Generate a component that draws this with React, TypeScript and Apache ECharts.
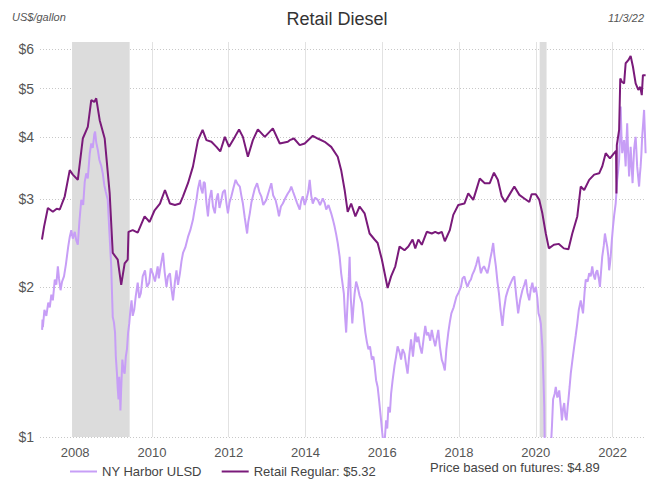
import React, { useEffect, useRef } from "react";
import * as echarts from "echarts";

const FONT = "'Liberation Sans', Arial, Helvetica, sans-serif";
const LIGHT = "#c79ef6";
const DARK = "#7a1a7a";

const yearTicks = [2008, 2010, 2012, 2014, 2016, 2018, 2020, 2022];
const priceTicks = [1, 2, 3, 4, 5, 6];

const recessions = [
  [2007.92, 2009.42],
  [2020.1, 2020.28],
];

const legendNames = ["NY Harbor ULSD", "Retail Regular: $5.32"];
const futuresNote = "Price based on futures: $4.89";
const titleText = "Retail Diesel";
const unitText = "US$/gallon";
const dateText = "11/3/22";

// [decimal year, US$/gallon]
const retailSeries: [number, number][] = [
  [2007.136, 2.49], [2007.19, 2.64], [2007.29, 2.88], [2007.42, 2.83], [2007.52, 2.87],
  [2007.6, 2.86], [2007.73, 3.04], [2007.86, 3.43], [2007.94, 3.36],
  [2008.07, 3.28], [2008.2, 3.97], [2008.33, 4.19], [2008.42, 4.74], [2008.5, 4.7],
  [2008.55, 4.78], [2008.64, 4.32], [2008.77, 3.97], [2008.9, 3.08], [2008.98, 2.34],
  [2009.11, 2.27], [2009.2, 2.02], [2009.29, 2.23], [2009.37, 2.27], [2009.39, 2.58],
  [2009.5, 2.6], [2009.63, 2.57], [2009.81, 2.77], [2009.94, 2.7],
  [2010.07, 2.85], [2010.21, 2.94], [2010.34, 3.13], [2010.47, 2.94], [2010.6, 2.92],
  [2010.73, 2.94], [2010.81, 3.04], [2010.94, 3.23],
  [2011.07, 3.49], [2011.2, 3.94], [2011.32, 4.13], [2011.42, 3.94], [2011.55, 3.91],
  [2011.68, 3.82], [2011.78, 3.74], [2011.9, 4.0],
  [2012.01, 3.82], [2012.16, 4.0], [2012.27, 4.14], [2012.37, 4.0], [2012.5, 3.65],
  [2012.63, 3.94], [2012.76, 4.14], [2012.94, 4.0],
  [2013.15, 4.16], [2013.33, 3.88], [2013.54, 3.91], [2013.59, 3.94], [2013.7, 3.97],
  [2013.85, 3.85], [2013.98, 3.88],
  [2014.19, 4.02], [2014.32, 3.97], [2014.5, 3.91], [2014.67, 3.82], [2014.84, 3.65],
  [2014.93, 3.43],
  [2015.02, 3.13], [2015.1, 2.83], [2015.19, 2.94], [2015.3, 2.77], [2015.41, 2.9],
  [2015.54, 2.81], [2015.67, 2.56], [2015.8, 2.49], [2015.88, 2.45], [2015.99, 2.27],
  [2016.14, 1.99], [2016.23, 2.1], [2016.34, 2.2], [2016.45, 2.41], [2016.58, 2.37],
  [2016.68, 2.41], [2016.79, 2.49], [2016.86, 2.39], [2016.94, 2.49],
  [2017.03, 2.43], [2017.16, 2.58], [2017.29, 2.56], [2017.38, 2.58], [2017.46, 2.56],
  [2017.55, 2.58], [2017.63, 2.47], [2017.76, 2.6], [2017.85, 2.79], [2017.98, 2.92],
  [2018.14, 2.94], [2018.24, 3.08], [2018.37, 2.99], [2018.46, 3.15], [2018.54, 3.3],
  [2018.67, 3.23], [2018.8, 3.23], [2018.91, 3.39],
  [2019.01, 3.28], [2019.11, 3.04], [2019.2, 2.96], [2019.31, 3.06], [2019.44, 3.18],
  [2019.57, 3.06], [2019.7, 3.01], [2019.83, 2.96], [2019.89, 3.07],
  [2020.0, 3.07], [2020.09, 2.99], [2020.17, 2.81], [2020.26, 2.56], [2020.34, 2.39],
  [2020.47, 2.43], [2020.6, 2.44], [2020.73, 2.39], [2020.85, 2.38], [2020.95, 2.56],
  [2021.08, 2.77], [2021.17, 3.18], [2021.26, 3.13], [2021.39, 3.28], [2021.52, 3.36],
  [2021.65, 3.38], [2021.73, 3.49], [2021.82, 3.71], [2021.93, 3.62],
  [2022.04, 3.71], [2022.09, 3.75], [2022.1, 3.08], [2022.11, 3.85], [2022.13, 3.94],
  [2022.17, 4.13], [2022.2, 5.24], [2022.24, 5.16], [2022.3, 5.12], [2022.34, 5.62],
  [2022.41, 5.7], [2022.47, 5.81], [2022.53, 5.53], [2022.6, 5.12], [2022.67, 4.97],
  [2022.72, 5.04], [2022.76, 4.85], [2022.79, 5.32], [2022.86, 5.32],
];

const ulsdSeries: [number, number][] = [
  [2007.14, 1.64], [2007.15, 1.72], [2007.16, 1.66], [2007.2, 1.8], [2007.25, 1.75],
  [2007.3, 1.86], [2007.34, 1.82], [2007.38, 1.93], [2007.42, 1.88], [2007.47, 2.07],
  [2007.51, 2.02], [2007.55, 2.2], [2007.58, 2.08], [2007.62, 1.97], [2007.66, 2.05],
  [2007.71, 2.1], [2007.76, 2.22], [2007.82, 2.41], [2007.86, 2.52], [2007.9, 2.6],
  [2007.94, 2.5], [2007.99, 2.58], [2008.03, 2.48], [2008.07, 2.43], [2008.11, 2.7],
  [2008.16, 2.99], [2008.21, 2.92], [2008.25, 3.25], [2008.29, 3.38], [2008.33, 3.3],
  [2008.38, 3.7], [2008.42, 3.88], [2008.46, 3.8], [2008.5, 4.05], [2008.52, 4.1],
  [2008.55, 3.9], [2008.59, 3.77], [2008.63, 3.6], [2008.68, 3.5], [2008.72, 3.38],
  [2008.76, 3.2], [2008.8, 3.1], [2008.85, 2.99], [2008.89, 2.6], [2008.94, 2.2],
  [2008.96, 1.95], [2008.98, 1.74], [2009.01, 1.7], [2009.04, 1.62], [2009.06, 1.45],
  [2009.09, 1.34], [2009.11, 1.25], [2009.13, 1.19], [2009.15, 1.32], [2009.17, 1.2],
  [2009.18, 1.13], [2009.2, 1.25], [2009.23, 1.43], [2009.26, 1.36], [2009.29, 1.34],
  [2009.32, 1.45], [2009.35, 1.5], [2009.38, 1.62], [2009.41, 1.69], [2009.44, 1.8],
  [2009.47, 1.88], [2009.5, 1.75], [2009.54, 1.8], [2009.58, 1.92], [2009.63, 2.04],
  [2009.67, 1.9], [2009.71, 1.94], [2009.76, 2.1], [2009.82, 2.16], [2009.87, 2.0],
  [2009.93, 2.04], [2009.97, 2.18], [2010.02, 2.13], [2010.08, 2.05], [2010.15, 2.2],
  [2010.18, 2.08], [2010.21, 2.16], [2010.25, 2.25], [2010.29, 2.34], [2010.33, 2.15],
  [2010.38, 2.0], [2010.42, 2.1], [2010.47, 2.13], [2010.51, 1.98], [2010.55, 1.88],
  [2010.6, 2.05], [2010.64, 2.16], [2010.68, 2.02], [2010.73, 2.13], [2010.77, 2.25],
  [2010.81, 2.34], [2010.87, 2.4], [2010.94, 2.52], [2011.0, 2.6], [2011.07, 2.73],
  [2011.11, 2.85], [2011.16, 2.99], [2011.2, 3.15], [2011.25, 3.28], [2011.28, 3.15],
  [2011.32, 3.08], [2011.35, 3.25], [2011.38, 3.23], [2011.42, 2.95], [2011.46, 2.77],
  [2011.5, 3.0], [2011.55, 3.13], [2011.59, 2.9], [2011.64, 2.81], [2011.68, 3.0],
  [2011.72, 3.08], [2011.76, 2.88], [2011.81, 2.99], [2011.85, 3.1], [2011.9, 3.13],
  [2011.94, 2.95], [2011.98, 2.81], [2012.02, 2.95], [2012.07, 3.04], [2012.12, 3.15],
  [2012.18, 3.28], [2012.23, 3.22], [2012.29, 3.18], [2012.33, 3.05], [2012.37, 2.94],
  [2012.42, 2.75], [2012.48, 2.56], [2012.51, 2.7], [2012.55, 2.81], [2012.59, 2.95],
  [2012.63, 3.04], [2012.68, 3.15], [2012.74, 3.23], [2012.8, 3.1], [2012.85, 3.04],
  [2012.9, 2.92], [2012.98, 2.99], [2013.04, 3.1], [2013.11, 3.23], [2013.16, 3.05],
  [2013.22, 2.99], [2013.27, 2.88], [2013.31, 2.77], [2013.36, 2.9], [2013.41, 2.94],
  [2013.48, 3.02], [2013.54, 3.08], [2013.59, 3.12], [2013.63, 3.18], [2013.68, 3.1],
  [2013.72, 3.04], [2013.78, 2.95], [2013.85, 2.86], [2013.89, 2.98], [2013.93, 3.04],
  [2013.98, 2.92], [2014.02, 2.99], [2014.07, 3.1], [2014.11, 3.28], [2014.15, 3.05],
  [2014.19, 2.94], [2014.25, 3.02], [2014.32, 2.99], [2014.38, 2.92], [2014.45, 3.01],
  [2014.5, 2.95], [2014.54, 2.86], [2014.6, 2.92], [2014.67, 2.81], [2014.72, 2.72],
  [2014.76, 2.64], [2014.8, 2.55], [2014.84, 2.45], [2014.89, 2.3], [2014.93, 2.13],
  [2014.97, 2.02], [2015.0, 1.94], [2015.03, 1.75], [2015.06, 1.62], [2015.08, 1.75],
  [2015.1, 1.88], [2015.13, 2.1], [2015.15, 2.3], [2015.18, 1.9], [2015.22, 1.69],
  [2015.25, 1.82], [2015.28, 1.94], [2015.32, 2.05], [2015.36, 2.0], [2015.41, 1.92],
  [2015.47, 1.86], [2015.51, 1.75], [2015.56, 1.62], [2015.6, 1.55], [2015.64, 1.5],
  [2015.68, 1.52], [2015.73, 1.43], [2015.77, 1.45], [2015.8, 1.39], [2015.84, 1.3],
  [2015.88, 1.26], [2015.92, 1.18], [2015.97, 1.08], [2016.0, 1.02], [2016.04, 0.95],
  [2016.07, 1.0], [2016.1, 1.08], [2016.13, 1.04], [2016.16, 1.15], [2016.2, 1.12],
  [2016.23, 1.22], [2016.27, 1.3], [2016.32, 1.39], [2016.36, 1.45], [2016.4, 1.52],
  [2016.45, 1.48], [2016.49, 1.43], [2016.53, 1.5], [2016.58, 1.47], [2016.62, 1.4],
  [2016.66, 1.34], [2016.7, 1.45], [2016.75, 1.57], [2016.8, 1.45], [2016.86, 1.62],
  [2016.9, 1.55], [2016.94, 1.59], [2016.98, 1.52], [2017.03, 1.47], [2017.08, 1.58],
  [2017.12, 1.67], [2017.16, 1.6], [2017.2, 1.62], [2017.25, 1.56], [2017.29, 1.64],
  [2017.33, 1.58], [2017.38, 1.52], [2017.42, 1.58], [2017.46, 1.64], [2017.5, 1.52],
  [2017.55, 1.43], [2017.59, 1.4], [2017.63, 1.36], [2017.67, 1.5], [2017.72, 1.62],
  [2017.76, 1.7], [2017.8, 1.77], [2017.86, 1.82], [2017.93, 1.91], [2017.99, 1.95],
  [2018.05, 2.0], [2018.09, 2.08], [2018.14, 2.1], [2018.18, 2.04], [2018.22, 2.0],
  [2018.27, 2.05], [2018.31, 2.07], [2018.35, 2.12], [2018.4, 2.16], [2018.45, 2.22],
  [2018.5, 2.3], [2018.54, 2.2], [2018.57, 2.13], [2018.61, 2.18], [2018.65, 2.2],
  [2018.7, 2.16], [2018.74, 2.13], [2018.78, 2.2], [2018.81, 2.27], [2018.85, 2.35],
  [2018.89, 2.45], [2018.92, 2.32], [2018.96, 2.2], [2019.0, 2.05], [2019.04, 1.94],
  [2019.08, 1.8], [2019.13, 1.67], [2019.17, 1.8], [2019.22, 1.91], [2019.28, 1.98],
  [2019.35, 2.04], [2019.4, 2.08], [2019.44, 2.1], [2019.49, 1.92], [2019.54, 1.77],
  [2019.59, 1.88], [2019.65, 1.97], [2019.7, 2.02], [2019.74, 2.07], [2019.78, 1.95],
  [2019.83, 1.88], [2019.87, 1.98], [2019.91, 2.04], [2019.95, 1.95], [2020.0, 2.0],
  [2020.04, 1.9], [2020.07, 1.77], [2020.1, 1.74], [2020.13, 1.69], [2020.17, 1.52],
  [2020.2, 1.3], [2020.22, 1.15], [2020.25, 0.75], [2020.3, 0.7], [2020.36, 0.85],
  [2020.4, 0.98], [2020.42, 1.05], [2020.45, 1.19], [2020.49, 1.22], [2020.52, 1.26],
  [2020.56, 1.2], [2020.61, 1.24], [2020.65, 1.15], [2020.68, 1.08], [2020.71, 1.14],
  [2020.74, 1.17], [2020.77, 1.1], [2020.8, 1.08], [2020.83, 1.15], [2020.85, 1.19],
  [2020.88, 1.26], [2020.91, 1.34], [2020.95, 1.42], [2021.0, 1.52], [2021.04, 1.6],
  [2021.08, 1.69], [2021.12, 1.8], [2021.17, 1.88], [2021.2, 1.82], [2021.23, 1.77],
  [2021.27, 1.95], [2021.3, 2.07], [2021.35, 2.05], [2021.39, 2.13], [2021.43, 2.1],
  [2021.47, 2.2], [2021.5, 2.12], [2021.54, 2.07], [2021.57, 2.14], [2021.6, 2.16],
  [2021.64, 2.08], [2021.67, 2.0], [2021.7, 2.15], [2021.73, 2.3], [2021.77, 2.42],
  [2021.8, 2.56], [2021.83, 2.48], [2021.86, 2.41], [2021.89, 2.3], [2021.91, 2.16],
  [2021.93, 2.22], [2021.95, 2.3], [2021.98, 2.48], [2022.01, 2.64], [2022.04, 2.78],
  [2022.08, 2.94], [2022.1, 3.1], [2022.12, 3.28], [2022.15, 3.45], [2022.17, 3.6],
  [2022.19, 4.0], [2022.21, 4.6], [2022.23, 4.05], [2022.25, 3.71], [2022.28, 3.85],
  [2022.3, 3.94], [2022.32, 3.7], [2022.34, 3.49], [2022.36, 3.9], [2022.38, 4.26],
  [2022.4, 3.8], [2022.43, 3.33], [2022.45, 3.55], [2022.47, 3.82], [2022.5, 3.45],
  [2022.52, 3.23], [2022.54, 3.5], [2022.56, 3.77], [2022.58, 3.9], [2022.6, 4.0],
  [2022.62, 3.75], [2022.64, 3.49], [2022.67, 3.3], [2022.69, 3.18], [2022.71, 3.35],
  [2022.73, 3.49], [2022.75, 3.7], [2022.77, 4.0], [2022.8, 4.3], [2022.82, 4.53],
  [2022.84, 4.1], [2022.86, 3.71],
];

export default function App() {
  const ref = useRef<HTMLDivElement>(null);
  useEffect(() => {
    if (!ref.current) return;
    const chart = echarts.init(ref.current, null, { renderer: "svg" });
    const ln = Math.log;
    const logTicks = priceTicks.map((p) => ln(p));
    chart.setOption({
      animation: false,
      textStyle: { fontFamily: FONT },
      grid: { left: 40, right: 1, top: 42, bottom: 44, containLabel: false },
      xAxis: {
        type: "value",
        min: 2007.085,
        max: 2022.87,
        axisLine: { show: false },
        axisTick: { show: false, customValues: yearTicks },
        axisLabel: {
          customValues: yearTicks,
          formatter: (v: number) => String(Math.round(v)),
          color: "#555",
          fontSize: 13,
          margin: 9,
          fontFamily: FONT,
        },
        splitLine: { show: true, lineStyle: { color: "#e2e2e2", width: 1 } },
      },
      yAxis: {
        type: "value",
        min: 0,
        max: ln(6.2),
        axisLine: { show: false },
        axisTick: { show: false, customValues: logTicks },
        axisLabel: {
          customValues: logTicks,
          formatter: (v: number) => "$" + Math.round(Math.exp(v)),
          color: "#555",
          fontSize: 14,
          margin: 6,
          fontFamily: FONT,
        },
        splitLine: {
          show: true,
          lineStyle: { color: "#c8c8c8", type: [1, 2], width: 1 },
        },
      },
      legend: {
        data: legendNames.map((n) => ({ name: n, icon: "rect" })),
        left: 65,
        top: 460,
        itemWidth: 27,
        itemHeight: 2,
        itemGap: 20,
        textStyle: { fontSize: 13, color: "#444", fontFamily: FONT },
        selectedMode: false,
      },
      graphic: [
        {
          type: "text",
          left: 12,
          top: 11,
          style: { text: unitText, font: `italic 11px ${FONT}`, fill: "#555" },
        },
        {
          type: "text",
          x: 337,
          y: 19,
          style: {
            text: titleText,
            font: `18px ${FONT}`,
            fill: "#333",
            textAlign: "center",
            textVerticalAlign: "middle",
          },
        },
        {
          type: "text",
          x: 644,
          y: 18,
          style: {
            text: dateText,
            font: `italic 11px ${FONT}`,
            fill: "#555",
            textAlign: "right",
            textVerticalAlign: "middle",
          },
        },
        {
          type: "text",
          x: 430,
          y: 467,
          style: {
            text: futuresNote,
            font: `13px ${FONT}`,
            fill: "#444",
            textVerticalAlign: "middle",
          },
        },
      ],
      series: [
        {
          name: "recession",
          type: "line",
          data: [],
          z: 1,
          silent: true,
          markArea: {
            silent: true,
            itemStyle: { color: "#dcdcdc" },
            data: recessions.map(([a, b]) => [{ xAxis: a }, { xAxis: b }]),
          },
        },
        {
          name: legendNames[0],
          type: "line",
          data: ulsdSeries.map(([x, p]) => [x, ln(p)]),
          symbol: "none",
          showSymbol: false,
          lineStyle: { color: LIGHT, width: 2 },
          itemStyle: { color: LIGHT },
          z: 3,
        },
        {
          name: legendNames[1],
          type: "line",
          data: retailSeries.map(([x, p]) => [x, ln(p)]),
          symbol: "none",
          showSymbol: false,
          lineStyle: { color: DARK, width: 2 },
          itemStyle: { color: DARK },
          z: 4,
        },
      ],
    });
    return () => chart.dispose();
  }, []);
  return (
    <div
      ref={ref}
      style={{ position: "fixed", left: 0, top: 0, width: 647, height: 481, background: "#fff" }}
    />
  );
}
